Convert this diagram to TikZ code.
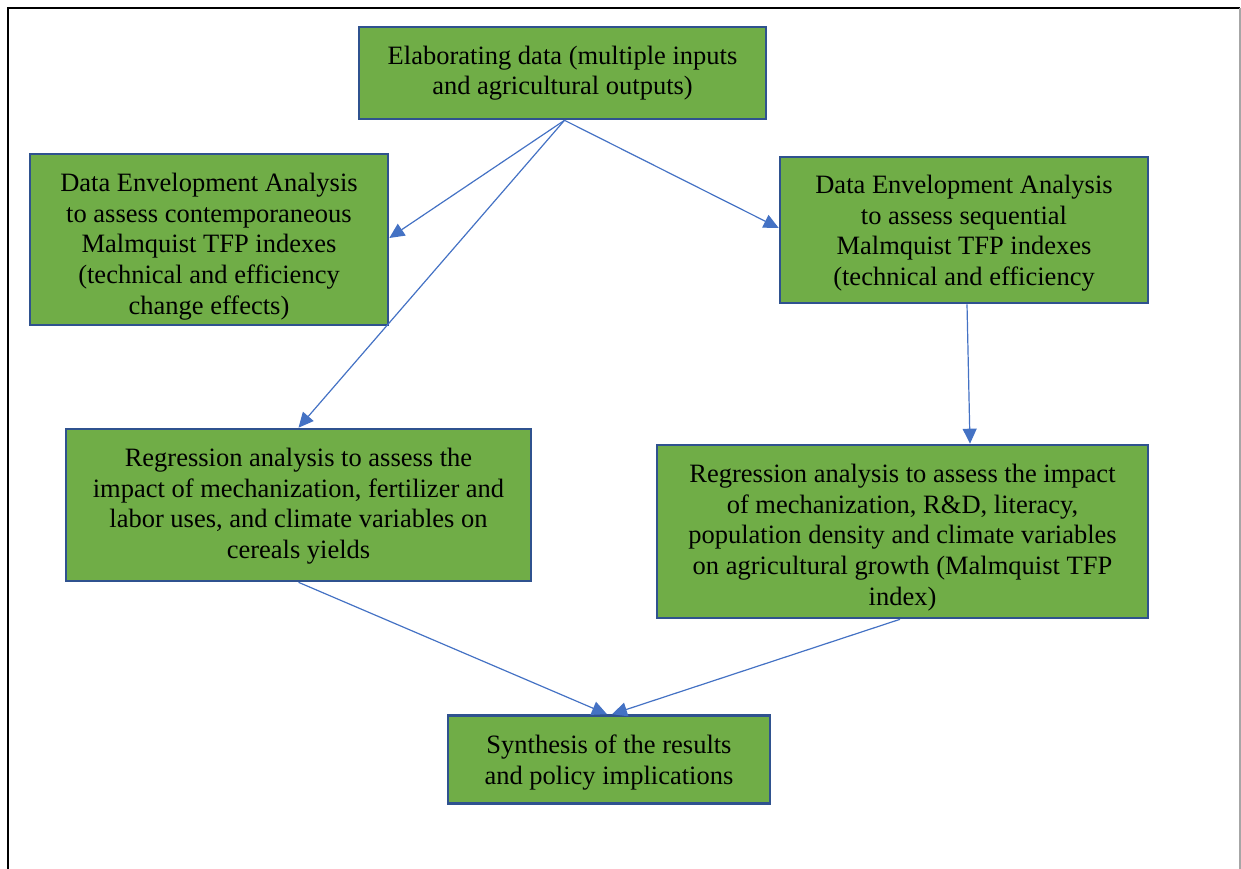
\documentclass[tikz,border=0pt]{standalone}
\usepackage{fontspec}
\setmainfont{Liberation Serif}
\usetikzlibrary{arrows.meta}
\definecolor{boxgreen}{HTML}{70AD47}
\definecolor{boxline}{HTML}{2F528F}
\definecolor{arrowblue}{HTML}{4472C4}
\tikzset{
  stepbox/.style={draw=boxline, fill=boxgreen, line width=2.6pt, inner sep=0pt},
  steptext/.style={inner sep=0pt, align=center, font=\fontsize{26.5}{30.6}\selectfont},
  flow/.style={draw=arrowblue, line width=1.2pt, -{Triangle[length=15pt,width=14pt]}, fill=none},
}
\begin{document}
\begin{tikzpicture}[x=1pt,y=-1pt]
\useasboundingbox (0,0) rectangle (1241,869);
\draw[black, line width=1.4pt] (8,869) -- (8,8) -- (1240,8);
\draw[gray!70, line width=1.4pt] (1240,8) -- (1240,869);

\node[stepbox, minimum width=407pt, minimum height=92pt] (top) at (562.5,73) {};
\node[steptext] (toptxt) at (top.center)
  {Elaborating data (multiple inputs\\and agricultural outputs)};
\node[stepbox, minimum width=358pt, minimum height=171pt] (deal) at (209,239.5) {};
\node[steptext] (dealtxt) at ([yshift=-7pt]deal.center)
  {Data Envelopment Analysis\\to assess contemporaneous\\Malmquist TFP indexes\\(technical and efficiency\\change effects)};
\node[stepbox, minimum width=368pt, minimum height=146pt] (dear) at (964,230) {};
\node[steptext] (deartxt) at ([yshift=-3pt]dear.center)
  {Data Envelopment Analysis\\to assess sequential\\Malmquist TFP indexes\\(technical and efficiency};
\node[stepbox, minimum width=465pt, minimum height=152pt] (regl) at (298.5,505) {};
\node[steptext] (regltxt) at ([yshift=-1pt]regl.center)
  {Regression analysis to assess the\\impact of mechanization, fertilizer and\\labor uses, and climate variables on\\cereals yields};
\node[stepbox, minimum width=491pt, minimum height=173pt] (regr) at (902.5,531.5) {};
\node[steptext] (regrtxt) at ([yshift=-6pt]regr.center)
  {Regression analysis to assess the impact\\of mechanization, R\&D, literacy,\\population density and climate variables\\on agricultural growth (Malmquist TFP\\index)};
\node[stepbox, minimum width=322pt, minimum height=88pt] (synth) at (609,759.5) {};
\node[steptext] (synthtxt) at ([yshift=-3pt]synth.center)
  {Synthesis of the results\\and policy implications};

\draw[flow] ([xshift=2pt]top.south) -- ([yshift=1.5pt]deal.east);
\draw[flow] ([xshift=2pt]top.south) -- (regl.north);
\draw[flow] ([xshift=2pt]top.south) -- ([yshift=2pt]dear.west);
\draw[flow] ([xshift=3pt]dear.south) -- ([xshift=67.5pt]regr.north);
\draw[flow] (regl.south) -- ([xshift=-2pt]synth.north);
\draw[flow] ([xshift=-2.5pt]regr.south) -- ([xshift=3pt]synth.north);
\end{tikzpicture}
\end{document}
